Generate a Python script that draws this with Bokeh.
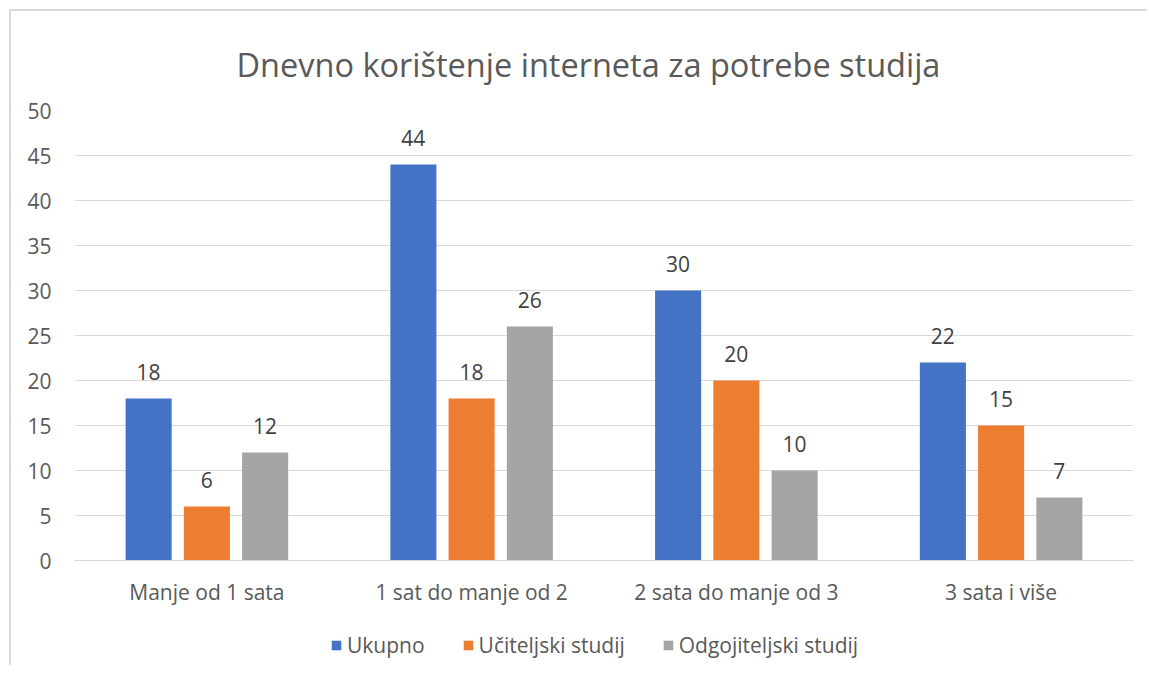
from bokeh.plotting import figure
from bokeh.layouts import column
from bokeh.models import ColumnDataSource, FixedTicker, Legend, LegendItem, LabelSet
from bokeh.core.properties import value
from bokeh.embed import file_html
from bokeh.resources import INLINE

categories = ["Manje od 1 sata", "1 sat do manje od 2", "2 sata do manje od 3", "3 sata i više"]
series_names = ["Ukupno", "Učiteljski studij", "Odgojiteljski studij"]
ukupno = [18, 44, 30, 22]
uciteljski = [6, 18, 20, 15]
odgojiteljski = [12, 26, 10, 7]
colors = ["#4472C4", "#ED7D31", "#A5A5A5"]
y_ticks = [0, 5, 10, 15, 20, 25, 30, 35, 40, 45, 50]

FONT = "Open Sans"
TXT = "#595959"

p = figure(width=1136, height=614, x_range=(0, 4), y_range=(0, 50),
           output_backend="svg", toolbar_location=None,
           min_border_left=63, min_border_right=14, min_border_top=99, min_border_bottom=65)

p.title.text = "Dnevno korištenje interneta za potrebe studija"
p.title.text_font = FONT
p.title.text_font_size = "32.5px"
p.title.text_font_style = "normal"
p.title.text_color = TXT
p.title.align = "left"
p.title.offset = 162
p.title.standoff = 48

p.outline_line_color = None
p.background_fill_color = "white"
p.border_fill_color = "white"

p.yaxis.ticker = FixedTicker(ticks=y_ticks)
p.xaxis.ticker = FixedTicker(ticks=[i + 0.5 for i in range(len(categories))])
p.xaxis.major_label_overrides = {i + 0.5: c for i, c in enumerate(categories)}
for ax in (p.xaxis, p.yaxis):
    ax.major_tick_line_color = None
    ax.minor_tick_line_color = None
    ax.major_label_text_font = FONT
    ax.major_label_text_font_size = "21px"
    ax.major_label_text_color = TXT
p.yaxis.axis_line_color = None
p.xaxis.axis_line_color = "#d9d9d9"
p.yaxis.major_label_standoff = 17
p.xaxis.major_label_standoff = 11
p.xgrid.grid_line_color = None
p.ygrid.grid_line_color = "#d9d9d9"
p.ygrid.grid_line_width = 1

offsets = [-0.22, 0.0, 0.22]
bar_w = 0.174
for vals, name, col, off in zip([ukupno, uciteljski, odgojiteljski], series_names, colors, offsets):
    src = ColumnDataSource(dict(x=[i + 0.5 + off for i in range(len(categories))], top=vals,
                                lab=[str(v) for v in vals]))
    p.vbar(x="x", top="top", width=bar_w, source=src, fill_color=col, line_color=None)
    p.add_layout(LabelSet(x="x", y="top", text="lab", source=src, text_align="center",
                          text_baseline="bottom", y_offset=19, text_font=value(FONT),
                          text_font_size="21px", text_color="#404040"))

# legend strip below the chart (proxy glyphs lie outside its visible range)
lf = figure(width=1136, height=40, x_range=(0, 1), y_range=(0, 1),
            output_backend="svg", toolbar_location=None,
            min_border=0, min_border_left=0, min_border_right=0, min_border_top=0, min_border_bottom=0)
lf.axis.visible = False
lf.grid.visible = False
lf.outline_line_color = None
items = []
for name, col in zip(series_names, colors):
    r = lf.vbar(x=[-5], top=[-5], width=0.1, fill_color=col, line_color=None)
    items.append(LegendItem(label=name, renderers=[r]))
legend = Legend(items=items, orientation="horizontal", location=(256, 6),
                label_text_font=FONT, label_text_font_size="21px", label_text_color=TXT,
                glyph_width=12, glyph_height=12, label_standoff=5, spacing=37,
                border_line_color=None, background_fill_alpha=0, margin=0, padding=4)
lf.add_layout(legend, "center")

layout = column(p, lf, spacing=0)
layout.margin = (9, 0, 0, 9)
layout.styles = {"border-left": "2px solid #d9d9d9", "border-top": "2px solid #d9d9d9"}

open("out.html", "w").write(file_html(layout, INLINE))
